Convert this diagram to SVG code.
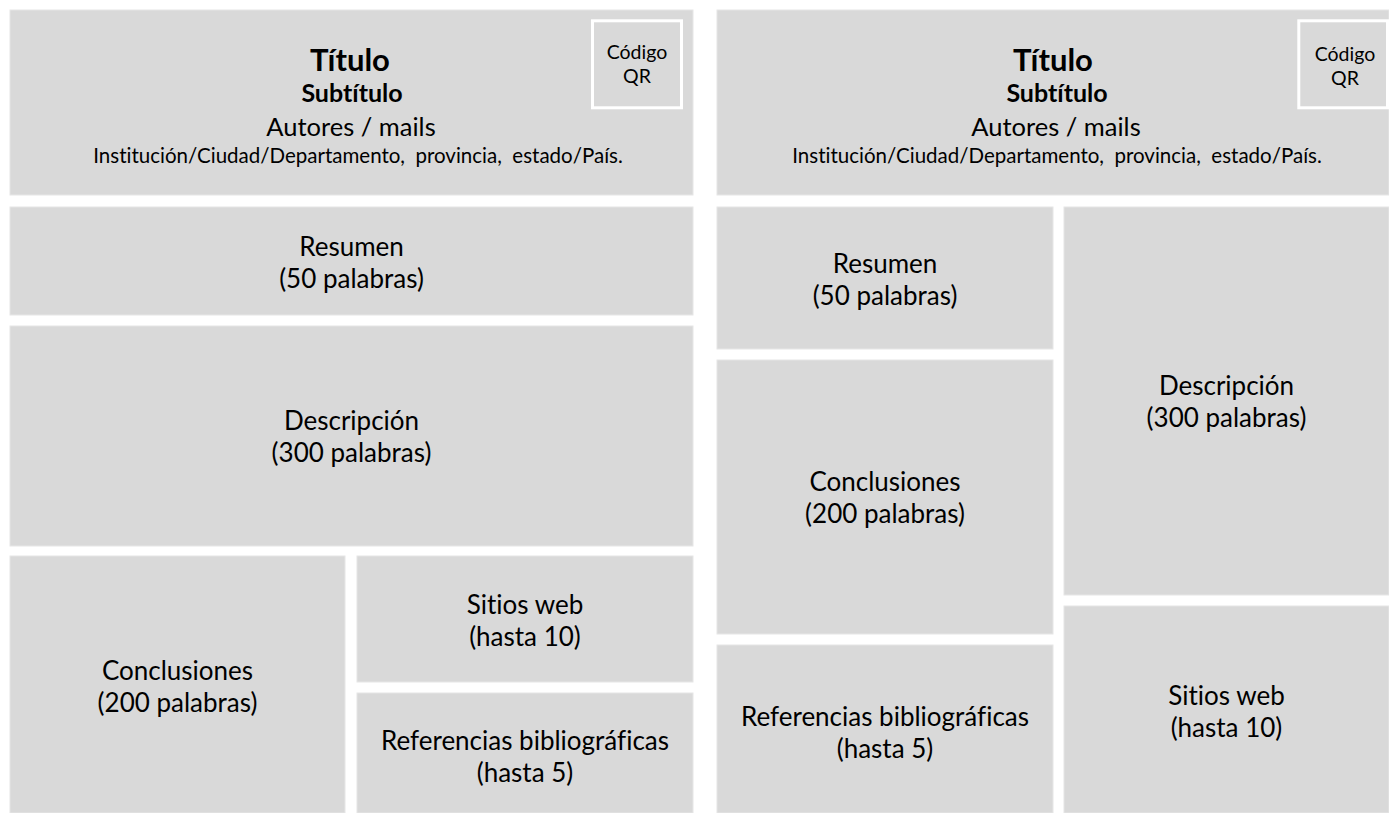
<svg xmlns="http://www.w3.org/2000/svg" width="1389" height="813" viewBox="0 0 1389 813">
<style>
.box{fill:#d9d9d9;stroke:#e6e6e6;stroke-width:1}
.qr{fill:none;stroke:#ffffff;stroke-width:3}
text{font-family:Lato,"Open Sans","Liberation Sans",sans-serif;fill:#000;text-anchor:middle;white-space:pre;font-variant-ligatures:none;font-feature-settings:"liga" 0,"dlig" 0}
.t{font-size:31px;font-weight:bold}
.st{font-size:25px;font-weight:bold}
.au{font-size:25.5px}
.in{font-size:20.5px}
.lb{font-size:26px}
.qt{font-size:19.5px}
</style>
<rect width="1389" height="813" fill="#ffffff"/>
<g id="header-left">
<rect class="box" x="10" y="10" width="683" height="185"/>
<text class="t" x="350" y="71">Título</text>
<text class="st" x="352" y="102">Subtítulo</text>
<text class="au" x="351" y="136">Autores / mails</text>
<text class="in" x="358" y="163" xml:space="preserve">Institución/Ciudad/Departamento,  provincia,  estado/País.</text>
</g>
<g id="qr-left">
<rect class="qr" x="592.5" y="20.8" width="89" height="87"/>
<text class="qt" x="637" y="59">Código</text>
<text class="qt" x="637" y="83">QR</text>
</g>
<g id="resumen-left">
<rect class="box" x="10" y="207" width="683" height="108"/>
<text class="lb" x="351.5" y="256">Resumen</text>
<text class="lb" x="351.5" y="288">(50 palabras)</text>
</g>
<g id="descripcion-left">
<rect class="box" x="10" y="326" width="683" height="220"/>
<text class="lb" x="351.5" y="430">Descripción</text>
<text class="lb" x="351.5" y="462">(300 palabras)</text>
</g>
<g id="conclusiones-left">
<rect class="box" x="10" y="556" width="335" height="257"/>
<text class="lb" x="177.5" y="680">Conclusiones</text>
<text class="lb" x="177.5" y="712">(200 palabras)</text>
</g>
<g id="sitios-left">
<rect class="box" x="357" y="556" width="336" height="126"/>
<text class="lb" x="525" y="614">Sitios web</text>
<text class="lb" x="525" y="646">(hasta 10)</text>
</g>
<g id="referencias-left">
<rect class="box" x="357" y="693" width="336" height="120"/>
<text class="lb" x="525" y="750">Referencias bibliográficas</text>
<text class="lb" x="525" y="782">(hasta 5)</text>
</g>
<g id="header-right">
<rect class="box" x="717" y="10" width="672" height="185"/>
<text class="t" x="1053" y="71">Título</text>
<text class="st" x="1057" y="102">Subtítulo</text>
<text class="au" x="1056" y="136">Autores / mails</text>
<text class="in" x="1057" y="163" xml:space="preserve">Institución/Ciudad/Departamento,  provincia,  estado/País.</text>
</g>
<g id="qr-right">
<rect class="qr" x="1298.8" y="20.8" width="88.7" height="87"/>
<text class="qt" x="1345" y="61">Código</text>
<text class="qt" x="1345" y="85">QR</text>
</g>
<g id="resumen-right">
<rect class="box" x="717" y="207" width="336" height="142"/>
<text class="lb" x="885" y="273">Resumen</text>
<text class="lb" x="885" y="305">(50 palabras)</text>
</g>
<g id="conclusiones-right">
<rect class="box" x="717" y="360" width="336" height="274"/>
<text class="lb" x="885" y="491">Conclusiones</text>
<text class="lb" x="885" y="523">(200 palabras)</text>
</g>
<g id="referencias-right">
<rect class="box" x="717" y="645" width="336" height="168"/>
<text class="lb" x="885" y="726">Referencias bibliográficas</text>
<text class="lb" x="885" y="758">(hasta 5)</text>
</g>
<g id="descripcion-right">
<rect class="box" x="1064" y="207" width="325" height="388"/>
<text class="lb" x="1226.5" y="395">Descripción</text>
<text class="lb" x="1226.5" y="427">(300 palabras)</text>
</g>
<g id="sitios-right">
<rect class="box" x="1064" y="606" width="325" height="207"/>
<text class="lb" x="1226.5" y="705">Sitios web</text>
<text class="lb" x="1226.5" y="737">(hasta 10)</text>
</g>
</svg>
